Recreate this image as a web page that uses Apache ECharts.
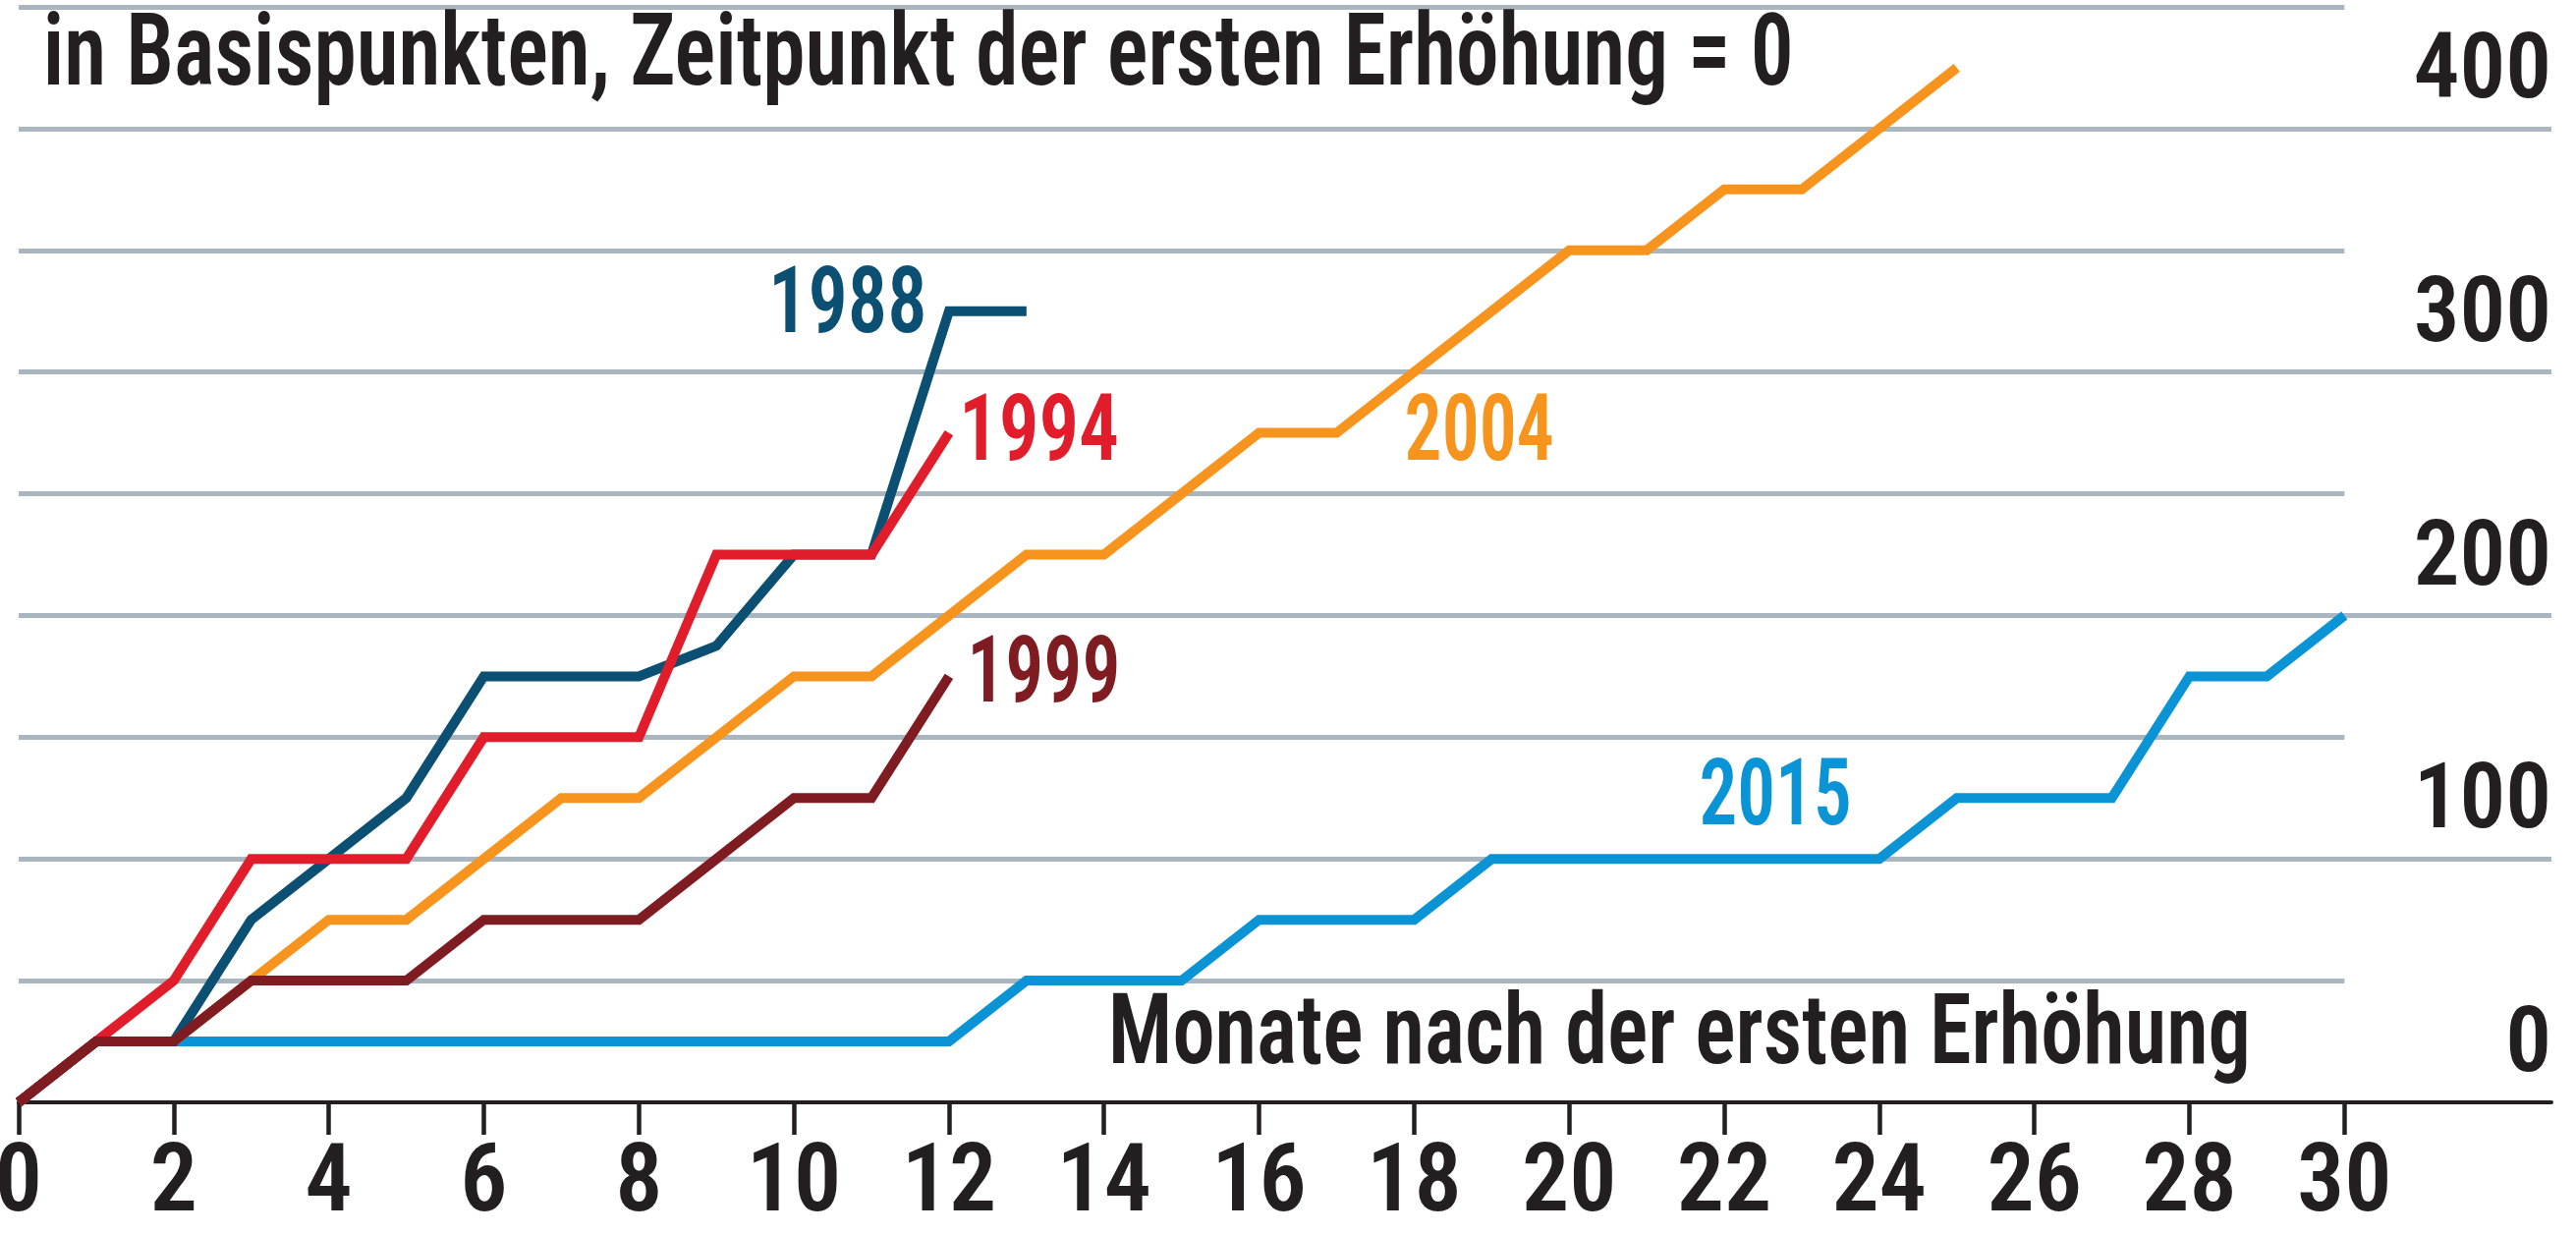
<!DOCTYPE html>
<html>
<head>
<meta charset="utf-8">
<script src="https://cdn.jsdelivr.net/npm/echarts@6/dist/echarts.min.js"></script>
<style>
html,body{margin:0;padding:0;background:#fff;}
#chart{width:2622px;height:1256px;}
</style>
</head>
<body>
<div id="chart"></div>
<script>
// Zinserhöhungszyklen der Fed, kumuliert in Basispunkten
var tickValues = [0,2,4,6,8,10,12,14,16,18,20,22,24,26,28,30];
var yLabels = [0,100,200,300,400];
var majorGrid = [100,200,300,400];
var minorGrid = [50,150,250,350,450];

var years = ['2015','2004','1988','1994','1999'];
var s2015 = [0,25,25,25,25,25,25,25,25,25,25,25,25,50,50,50,75,75,75,100,100,100,100,100,100,125,125,125,175,175,200];
var s2004 = [0,25,25,50,75,75,100,125,125,150,175,175,200,225,225,250,275,275,300,325,350,350,375,375,400,425];
var s1988 = [0,25,25,75,100,125,175,175,175,187.5,225,225,325,325];
var s1994 = [0,25,50,100,100,100,150,150,150,225,225,225,275];
var s1999 = [0,25,25,50,50,50,75,75,75,100,125,125,175];

var colors = {
	'2015':'#0a94d6',
	'2004':'#f7941e',
	'1988':'#0b5073',
	'1994':'#e21d2b',
	'1999':'#7f1c22'
};
var txtColor = '#231f20';
var gridColor = '#a9b5bf';
var fontFam = '"Roboto Condensed","Open Sans Condensed","Liberation Sans",sans-serif';
var fontW = '600';

// Textpositionen: linke Kante der Schrift, Mitte der Versalhöhe, Zielbreite
var textLayout = [
	{text:'in Basispunkten, Zeitpunkt der ersten Erhöhung = 0', x:48, cy:60, w:1774, size:102, color:txtColor},
	{text:'Monate nach der ersten Erhöhung', x:1133, cy:1057, w:1154, size:101, color:txtColor},
	{text:'1988', x:788, cy:314, w:152, size:94, color:colors['1988']},
	{text:'1994', x:982, cy:444, w:155, size:94, color:colors['1994']},
	{text:'2004', x:1432, cy:444, w:148, size:94, color:colors['2004']},
	{text:'1999', x:990, cy:690, w:147, size:94, color:colors['1999']},
	{text:'2015', x:1732, cy:815, w:150, size:94, color:colors['2015']}
];

var measureCtx = document.createElement('canvas').getContext('2d');
function textEl(t){
	var font = fontW + ' ' + t.size + 'px ' + fontFam;
	measureCtx.font = font;
	var m = measureCtx.measureText(t.text);
	var ink = m.actualBoundingBoxLeft + m.actualBoundingBoxRight;
	var s = t.w / ink;
	return {
		type:'text',
		x: t.x + m.actualBoundingBoxLeft * s,
		y: t.cy,
		scaleX: s,
		z: 10,
		silent: true,
		style:{
			text: t.text,
			font: font,
			fill: t.color,
			textAlign:'left',
			textVerticalAlign:'middle'
		}
	};
}

function toPairs(arr){
	var out = [];
	for(var i=0;i<arr.length;i++){
		out.push([i, arr[i]]);
	}
	return out;
}

var seriesData = {'2015':s2015,'2004':s2004,'1988':s1988,'1994':s1994,'1999':s1999};
var lastMonth = tickValues[tickValues.length-1];

var series = [];
for(var k=0;k<years.length;k++){
	var y = years[k];
	var ser = {
		name: y,
		type:'line',
		data: toPairs(seriesData[y]),
		showSymbol:false,
		symbol:'none',
		z: 3,
		silent: true,
		lineStyle:{color:colors[y], width:10, join:'miter', cap:'butt'}
	};
	if(k==0){
		//Gitterlinien als markLine, liegen unter allen Linien
		var ml = [];
		for(var i=0;i<majorGrid.length;i++){
			ml.push({yAxis: majorGrid[i]});
		}
		for(var j=0;j<minorGrid.length;j++){
			ml.push([{coord:[0, minorGrid[j]]},{coord:[lastMonth, minorGrid[j]]}]);
		}
		ser.markLine = {
			silent:true,
			z:1,
			symbol:['none','none'],
			label:{show:false},
			emphasis:{disabled:true},
			lineStyle:{color:gridColor, width:5, type:'solid'},
			data: ml
		};
	}
	series.push(ser);
}

var chart = echarts.init(document.getElementById('chart'));
var option = {
	animation:false,
	backgroundColor:'#ffffff',
	grid:{left:19, right:25, top:7, bottom:134, containLabel:false, outerBoundsMode:'none'},
	xAxis:{
		type:'value',
		min:0,
		max:32.67,
		axisLine:{show:true, onZero:false, lineStyle:{color:txtColor, width:4}},
		axisTick:{show:true, customValues:tickValues, length:33, lineStyle:{color:txtColor, width:4.5}},
		axisLabel:{
			customValues:tickValues,
			margin:38,
			color:txtColor,
			fontFamily:fontFam,
			fontWeight:fontW,
			fontSize:96,
			lineHeight:96
		},
		splitLine:{show:false}
	},
	yAxis:{
		type:'value',
		position:'right',
		min:0,
		max:450,
		axisLine:{show:false},
		axisTick:{show:false},
		axisLabel:{
			customValues:yLabels,
			inside:false,
			margin:0,
			align:'right',
			verticalAlign:'bottom',
			lineHeight:110,
			color:txtColor,
			fontFamily:fontFam,
			fontWeight:fontW,
			fontSize:93
		},
		splitLine:{show:false}
	},
	graphic: textLayout.map(textEl),
	series: series
};
chart.setOption(option);
</script>
</body>
</html>
